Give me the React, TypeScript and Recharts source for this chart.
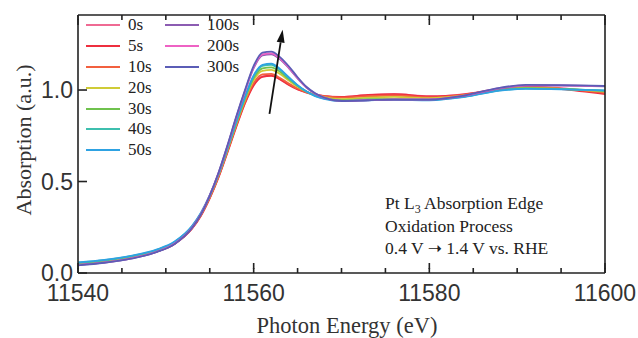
import React from "react";
import { LineChart, Line, XAxis, YAxis, Legend, ReferenceLine } from "recharts";

// photon energy grid (eV)
const energy = [
  11540, 11543, 11546, 11549, 11551, 11553, 11554, 11555, 11556, 11557,
  11558, 11559, 11560, 11561, 11562, 11563, 11564, 11565, 11566, 11567,
  11568, 11570, 11573, 11576, 11580, 11584, 11588, 11591, 11595, 11600,
];

const s0 = [0.048, 0.062, 0.083, 0.118, 0.16, 0.245, 0.315, 0.41, 0.525, 0.66, 0.8, 0.93, 1.03, 1.075, 1.08, 1.06, 1.03, 1.005, 0.988, 0.976, 0.968, 0.962, 0.972, 0.978, 0.966, 0.978, 1.008, 1.02, 1.01, 0.985];
const s5 = [0.047, 0.061, 0.082, 0.117, 0.159, 0.243, 0.313, 0.408, 0.522, 0.656, 0.795, 0.925, 1.025, 1.072, 1.078, 1.058, 1.028, 1.003, 0.986, 0.975, 0.967, 0.962, 0.973, 0.977, 0.965, 0.976, 1.005, 1.018, 1.005, 0.978];
const s10 = [0.049, 0.063, 0.084, 0.119, 0.161, 0.246, 0.317, 0.412, 0.528, 0.663, 0.804, 0.935, 1.038, 1.085, 1.088, 1.066, 1.035, 1.008, 0.989, 0.975, 0.966, 0.958, 0.966, 0.97, 0.96, 0.974, 1.004, 1.017, 1.008, 0.985];
const s20 = [0.05, 0.064, 0.086, 0.121, 0.164, 0.25, 0.321, 0.417, 0.534, 0.67, 0.812, 0.945, 1.055, 1.105, 1.11, 1.088, 1.052, 1.018, 0.992, 0.973, 0.961, 0.95, 0.958, 0.962, 0.955, 0.97, 1.002, 1.012, 1.006, 0.992];
const s30 = [0.053, 0.067, 0.089, 0.124, 0.167, 0.253, 0.324, 0.42, 0.537, 0.674, 0.817, 0.952, 1.065, 1.118, 1.124, 1.1, 1.06, 1.022, 0.992, 0.97, 0.957, 0.944, 0.95, 0.952, 0.948, 0.966, 1.0, 1.01, 1.006, 0.995];
const s40 = [0.056, 0.07, 0.092, 0.127, 0.17, 0.256, 0.327, 0.423, 0.54, 0.678, 0.822, 0.958, 1.075, 1.132, 1.138, 1.11, 1.066, 1.025, 0.992, 0.968, 0.954, 0.941, 0.946, 0.948, 0.945, 0.963, 0.998, 1.008, 1.005, 0.997];
const s50 = [0.058, 0.072, 0.094, 0.129, 0.172, 0.258, 0.329, 0.425, 0.543, 0.681, 0.826, 0.962, 1.08, 1.138, 1.144, 1.115, 1.07, 1.027, 0.993, 0.967, 0.952, 0.939, 0.944, 0.946, 0.944, 0.962, 0.997, 1.006, 1.004, 0.998];
const s100 = [0.043, 0.057, 0.079, 0.116, 0.16, 0.248, 0.322, 0.422, 0.545, 0.69, 0.845, 0.99, 1.12, 1.19, 1.195, 1.168, 1.12, 1.063, 1.013, 0.98, 0.958, 0.94, 0.944, 0.948, 0.948, 0.968, 1.008, 1.024, 1.024, 1.02];
const s200 = [0.044, 0.058, 0.08, 0.117, 0.161, 0.249, 0.323, 0.424, 0.547, 0.692, 0.848, 0.993, 1.125, 1.195, 1.2, 1.172, 1.124, 1.066, 1.015, 0.981, 0.959, 0.941, 0.945, 0.949, 0.949, 0.969, 1.01, 1.026, 1.025, 1.021];
const s300 = [0.042, 0.056, 0.078, 0.115, 0.159, 0.247, 0.321, 0.423, 0.548, 0.695, 0.852, 0.998, 1.132, 1.205, 1.21, 1.18, 1.13, 1.07, 1.018, 0.982, 0.959, 0.94, 0.944, 0.948, 0.948, 0.97, 1.012, 1.028, 1.027, 1.022];

const seriesNames = ["0s", "5s", "10s", "20s", "30s", "40s", "50s", "100s", "200s", "300s"];
const seriesValues = [s0, s5, s10, s20, s30, s40, s50, s100, s200, s300];
const seriesColors = ["#ef6a93", "#ee2f3f", "#f2603f", "#cfcb36", "#6fc24d", "#3ebfae", "#2ea2e2", "#8c5cb2", "#ee62c4", "#5b5db6"];

const xTicks = [11540, 11545, 11550, 11555, 11560, 11565, 11570, 11575, 11580, 11585, 11590, 11595, 11600];
const yTicks = [0, 0.5, 1.0];

const data = energy.map((e, i) => {
  const row: Record<string, number> = { e };
  seriesNames.forEach((n, k) => (row[n] = seriesValues[k][i]));
  return row;
});

const AXIS = "#222";
const SANS = "'Liberation Sans', Arial, sans-serif";
const SERIF = "'Liberation Serif', 'Times New Roman', serif";
const MINOR = 5;
const axisStyle = { stroke: AXIS, strokeWidth: 1.6 };

// ticks point into the plot (negative tickSize); majors get an extra bit of length
const BottomTick = (props: any) => {
  const { x, y, payload } = props;
  const major = payload.value % 20 === 0;
  if (!major) return <g />;
  return (
    <g>
      <line x1={x} x2={x} y1={y + 1} y2={y - 5} stroke={AXIS} strokeWidth={1.6} />
      <text x={x} y={y + MINOR + 28} textAnchor="middle" fontFamily={SANS} fontSize={23} fill="#333">
        {payload.value}
      </text>
    </g>
  );
};

const TopTick = (props: any) => {
  const { x, y, payload } = props;
  if (payload.value % 20 !== 0) return <g />;
  return <line x1={x} x2={x} y1={y - 1} y2={y + 5} stroke={AXIS} strokeWidth={1.6} />;
};

const LeftTick = (props: any) => {
  const { x, y, payload } = props;
  return (
    <text x={x - 9 - 5} y={y + 8} textAnchor="end" fontFamily={SANS} fontSize={23} fill="#333">
      {payload.value.toFixed(1)}
    </text>
  );
};

const renderLegend = (props: any) => {
  const items = [...(props.payload || [])]
    .filter((p: any) => seriesNames.includes(p.value))
    .sort((a: any, b: any) => seriesNames.indexOf(a.value) - seriesNames.indexOf(b.value));
  return (
    <div
      style={{
        display: "grid",
        gridAutoFlow: "column",
        gridTemplateRows: "repeat(7, 20.8px)",
        gridTemplateColumns: "79px 80px",
        fontFamily: SERIF,
        fontSize: 17,
        color: "#222",
      }}
    >
      {items.map((p: any) => (
        <div key={p.value} style={{ display: "flex", alignItems: "center" }}>
          <span style={{ width: 34, height: 2, background: p.color, marginRight: 8 }} />
          <span>{p.value}</span>
        </div>
      ))}
    </div>
  );
};

const Arrow = (props: any) => {
  const { x1, y1, x2, y2 } = props;
  const ang = Math.atan2(y2 - y1, x2 - x1);
  const L = 13;
  const W = 4;
  const bx = x2 - L * Math.cos(ang);
  const by = y2 - L * Math.sin(ang);
  const px = -Math.sin(ang) * W;
  const py = Math.cos(ang) * W;
  return (
    <g>
      <line x1={x1} y1={y1} x2={bx} y2={by} stroke="#111" strokeWidth={1.8} />
      <polygon points={`${x2},${y2} ${bx + px},${by + py} ${bx - px},${by - py}`} fill="#111" />
    </g>
  );
};

export default function App() {
  return (
    <div style={{ position: "absolute", left: 0, top: 0 }}>
      <LineChart width={638} height={338} data={data} margin={{ top: 14, right: 32, bottom: 0, left: 18 }}>
        <XAxis
          dataKey="e"
          type="number"
          domain={[11540, 11600]}
          ticks={xTicks}
          interval={0}
          height={65}
          tickSize={-MINOR}
          tickMargin={0}
          tickLine={axisStyle}
          axisLine={axisStyle}
          tick={<BottomTick />}
        />
        <XAxis
          xAxisId="top"
          orientation="top"
          dataKey="e"
          type="number"
          domain={[11540, 11600]}
          ticks={xTicks}
          interval={0}
          height={1}
          tickSize={-MINOR}
          tickMargin={0}
          tickLine={axisStyle}
          axisLine={axisStyle}
          tick={<TopTick />}
        />
        <YAxis
          type="number"
          domain={[0, 1.41]}
          ticks={yTicks}
          interval={0}
          width={60}
          tickSize={-9}
          tickMargin={0}
          tickLine={axisStyle}
          axisLine={axisStyle}
          tick={<LeftTick />}
        />
        <YAxis
          yAxisId="right"
          orientation="right"
          type="number"
          domain={[0, 1.41]}
          ticks={yTicks}
          interval={0}
          width={1}
          tickSize={-9}
          tickMargin={0}
          tickLine={axisStyle}
          axisLine={axisStyle}
          tick={false}
        />
        <Legend
          layout="horizontal"
          verticalAlign="middle"
          align="center"
          content={renderLegend}
          wrapperStyle={{ left: 86, top: 15, width: 170, height: 150 }}
        />
        {/* invisible copy so the top and right frame axes have data */}
        <Line
          xAxisId="top"
          yAxisId="right"
          dataKey="300s"
          name="frame"
          stroke="none"
          dot={false}
          legendType="none"
          isAnimationActive={false}
        />
        {seriesNames.map((n, k) => (
          <Line
            key={n}
            dataKey={n}
            name={n}
            type="monotone"
            stroke={seriesColors[k]}
            strokeWidth={1.8}
            dot={false}
            isAnimationActive={false}
          />
        ))}
        <ReferenceLine
          segment={[
            { x: 11561.8, y: 0.87 },
            { x: 11563.3, y: 1.33 },
          ]}
          ifOverflow="visible"
          shape={<Arrow />}
        />
        <text x={31} y={140} transform="rotate(-90 31 140)" textAnchor="middle" fontFamily={SERIF} fontSize={22} fill="#333">
          Absorption (a.u.)
        </text>
        <text x={347} y={333} textAnchor="middle" fontFamily={SERIF} fontSize={22.5} fill="#333">
          Photon Energy (eV)
        </text>
        <text x={385} y={209} fontFamily={SERIF} fontSize={17.5} fill="#222">
          Pt L<tspan fontSize={12} dy={4}>3</tspan>
          <tspan dy={-4}> Absorption Edge</tspan>
        </text>
        <text x={385} y={232} fontFamily={SERIF} fontSize={17.5} fill="#222">
          Oxidation Process
        </text>
        <text x={385} y={254} fontFamily={SERIF} fontSize={17.5} fill="#222">
          0.4 V <tspan fontFamily="'DejaVu Sans', sans-serif" fontSize={17}>➝</tspan> 1.4 V vs. RHE
        </text>
      </LineChart>
    </div>
  );
}
